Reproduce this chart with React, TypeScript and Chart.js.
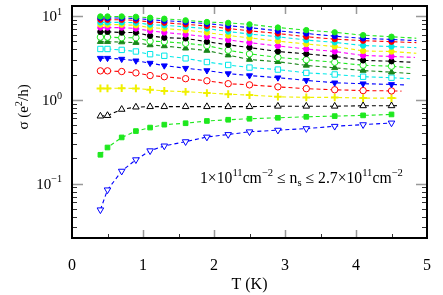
import React, { useEffect, useRef } from "react";
import { Chart, registerables } from "chart.js";
Chart.register(...registerables);

// Temperature (K)
const T = [0.4, 0.5, 0.7, 0.9, 1.1, 1.3, 1.6, 1.9, 2.2, 2.5, 2.9, 3.3, 3.7, 4.1, 4.5];

// Conductivity sigma (e^2/h), top curve (highest n_s) to bottom curve (lowest n_s)
const sigmaGreenDot = [9.9, 9.9, 9.9, 9.8, 9.55, 9.3, 8.9, 8.5, 8.3, 7.97, 7.3, 6.8, 6.4, 5.92, 5.67];
const sigmaBlueDot = [9.5, 9.5, 9.5, 9.37, 9.05, 8.81, 8.51, 8.12, 7.69, 7.29, 6.67, 6.2, 5.76, 5.42, 5.27];
const sigmaRedDot = [9.05, 9.05, 9.05, 8.88, 8.51, 8.34, 7.97, 7.63, 7.1, 6.67, 6.2, 5.67, 5.31, 5.09, 4.95];
const sigmaCyanDot = [8.41, 8.41, 8.41, 8.34, 7.91, 7.76, 7.43, 7.1, 6.54, 6.11, 5.67, 5.17, 4.86, 4.45, 4.33];
const sigmaYellowDot = [7.91, 7.91, 7.91, 7.76, 7.29, 7.1, 6.78, 6.37, 5.87, 5.49, 5.03, 4.64, 4.33, 3.84, 3.78];
const sigmaMagentaDot = [7.29, 7.29, 7.29, 7.1, 6.67, 6.37, 6.03, 5.67, 5.2, 4.82, 4.4, 4.05, 3.78, 3.39, 3.3];
const sigmaBlackDot = [6.49, 6.49, 6.37, 6.37, 5.82, 5.52, 5.42, 4.95, 4.54, 4.21, 3.78, 3.54, 3.3, 2.96, 2.89];
const sigmaGreenOpen = [5.61, 5.61, 5.52, 5.52, 5.03, 4.95, 4.73, 4.45, 3.91, 3.54, 3.21, 3.01, 2.81, 2.59, 2.52];
const sigmaDarkGreenTri = [4.95, 4.95, 4.9, 4.82, 4.52, 4.4, 4.13, 3.88, 3.42, 3.03, 2.85, 2.58, 2.41, 2.24, 2.14];
const sigmaCyanSquare = [4.05, 4.05, 3.95, 3.78, 3.51, 3.36, 3.13, 2.83, 2.61, 2.43, 2.3, 2.1, 2.01, 1.89, 1.84];
const sigmaBlueDownTri = [3.15, 3.15, 3.07, 2.93, 2.75, 2.56, 2.39, 2.24, 2.06, 1.95, 1.84, 1.71, 1.6, 1.56, 1.53];
const sigmaRedOpen = [2.22, 2.22, 2.18, 2.1, 1.95, 1.89, 1.79, 1.69, 1.56, 1.51, 1.43, 1.36, 1.32, 1.29, 1.28];
const sigmaYellowPlus = [1.37, 1.37, 1.38, 1.37, 1.32, 1.28, 1.25, 1.21, 1.17, 1.14, 1.09, 1.07, 1.07, 1.05, 1.05];
const sigmaBlackOpenTri = [0.64, 0.65, 0.77, 0.82, 0.83, 0.83, 0.83, 0.83, 0.83, 0.83, 0.84, 0.84, 0.84, 0.85, 0.85];
const sigmaGreenSquare = [0.221, 0.27, 0.356, 0.424, 0.467, 0.506, 0.526, 0.56, 0.579, 0.595, 0.611, 0.628, 0.64, 0.653, 0.67];
const sigmaBlueOpenDownTri = [0.0487, 0.0843, 0.141, 0.193, 0.247, 0.282, 0.317, 0.36, 0.386, 0.416, 0.435, 0.454, 0.484, 0.506, 0.53];

// Dashed fit lines continue a little past the last measured point (first 14 curves)
const extT = [4.85, 4.85, 4.85, 4.85, 4.85, 4.83, 4.8, 4.79, 4.79, 4.76, 4.69, 4.64, 4.57, 4.6];
const extSigma = [5.45, 5.09, 4.82, 4.2, 3.6, 3.21, 2.81, 2.41, 2.06, 1.79, 1.51, 1.27, 1.05, 0.855];

// Axes
const xTickLabels = ["0", "1", "2", "3", "4", "5"];
const xMajorTicks = [1, 2, 3, 4];
const xMinorTicks = [0.5, 1.5, 2.5, 3.5, 4.5];
const yTickValues = [0.1, 1, 10];
const yTickExponents = ["\u22121", "0", "1"];
const yMinorMultipliers = [2, 3, 4, 5, 6, 7, 8, 9];
const yMinorDecades = [0.01, 0.1, 1, 10];

const series = [
  sigmaGreenDot, sigmaBlueDot, sigmaRedDot, sigmaCyanDot, sigmaYellowDot, sigmaMagentaDot,
  sigmaBlackDot, sigmaGreenOpen, sigmaDarkGreenTri, sigmaCyanSquare, sigmaBlueDownTri,
  sigmaRedOpen, sigmaYellowPlus, sigmaBlackOpenTri, sigmaGreenSquare, sigmaBlueOpenDownTri,
];

const GREEN = "#1ee81e";
const styles = [
  { color: GREEN, shape: "circle", fill: true, r: 2.7 },
  { color: "#0000ff", shape: "circle", fill: true, r: 2.7 },
  { color: "#ff0000", shape: "circle", fill: true, r: 2.7 },
  { color: "#00e8e8", shape: "circle", fill: true, r: 2.7 },
  { color: "#f0f000", shape: "circle", fill: true, r: 2.7 },
  { color: "#ff00ff", shape: "circle", fill: true, r: 2.7 },
  { color: "#000000", shape: "circle", fill: true, r: 2.7 },
  { color: GREEN, shape: "circle", fill: false, r: 3.2 },
  { color: "#1a861a", shape: "triangle", fill: true, r: 3.5 },
  { color: "#00e8e8", shape: "rect", fill: false, r: 3.8 },
  { color: "#0000ff", shape: "triangle", fill: true, r: 3.5, rot: 180 },
  { color: "#ff0000", shape: "circle", fill: false, r: 3.2 },
  { color: "#f0f000", shape: "cross", fill: true, r: 3.8, bw: 2 },
  { color: "#000000", shape: "triangle", fill: false, r: 3.8 },
  { color: GREEN, shape: "rect", fill: true, r: 3.3 },
  { color: "#0000ff", shape: "triangle", fill: false, r: 3.8, rot: 180 },
];

const FONT = "'Liberation Serif', 'Times New Roman', serif";

type Seg = [string, number];
function drawRich(ctx: CanvasRenderingContext2D, segs: Seg[], x: number, y: number, size: number, align: string) {
  const small = size * 0.68;
  const widths = segs.map(([t, k]) => {
    ctx.font = `${k ? small : size}px ${FONT}`;
    return ctx.measureText(t).width;
  });
  const total = widths.reduce((a, b) => a + b, 0);
  let cx = align === "right" ? x - total : align === "center" ? x - total / 2 : x;
  ctx.textAlign = "left";
  ctx.textBaseline = "alphabetic";
  segs.forEach(([t, k], i) => {
    ctx.font = `${k ? small : size}px ${FONT}`;
    const dy = k === 1 ? -size * 0.42 : k === -1 ? size * 0.22 : 0;
    ctx.fillText(t, cx, y + dy);
    cx += widths[i];
  });
}

const framePlugin = {
  id: "frameTicks",
  afterDraw(chart: any) {
    const ctx = chart.ctx as CanvasRenderingContext2D;
    const { left, right, top, bottom } = chart.chartArea;
    const xs = chart.scales.x;
    const ys = chart.scales.y;
    ctx.save();
    ctx.lineWidth = 1.5;
    ctx.strokeStyle = "#999";
    xMajorTicks.forEach((v) => {
      const px = Math.round(xs.getPixelForValue(v)) + 0.5;
      ctx.beginPath();
      ctx.moveTo(px, bottom); ctx.lineTo(px, bottom - 8);
      ctx.moveTo(px, top); ctx.lineTo(px, top + 8);
      ctx.stroke();
    });
    ctx.lineWidth = 1;
    ctx.strokeStyle = "#333";
    xMinorTicks.forEach((v) => {
      const px = Math.round(xs.getPixelForValue(v)) + 0.5;
      ctx.beginPath();
      ctx.moveTo(px, bottom); ctx.lineTo(px, bottom - 4);
      ctx.moveTo(px, top); ctx.lineTo(px, top + 4);
      ctx.stroke();
    });
    ctx.lineWidth = 1.5;
    ctx.strokeStyle = "#999";
    yTickValues.forEach((v) => {
      const py = Math.round(ys.getPixelForValue(v)) + 0.5;
      ctx.beginPath();
      ctx.moveTo(left, py); ctx.lineTo(left + 11, py);
      ctx.moveTo(right, py); ctx.lineTo(right - 11, py);
      ctx.stroke();
    });
    ctx.lineWidth = 1;
    ctx.strokeStyle = "#333";
    yMinorDecades.forEach((d) => {
      yMinorMultipliers.forEach((m) => {
        const v = d * m;
        if (v <= ys.min || v >= ys.max) return;
        const py = Math.round(ys.getPixelForValue(v)) + 0.5;
        ctx.beginPath();
        ctx.moveTo(left, py); ctx.lineTo(left + 5, py);
        ctx.moveTo(right, py); ctx.lineTo(right - 5, py);
        ctx.stroke();
      });
    });
    ctx.lineWidth = 2;
    ctx.strokeStyle = "#000";
    ctx.strokeRect(left, top, right - left, bottom - top);

    ctx.fillStyle = "#000";
    yTickValues.forEach((v, i) => {
      const py = ys.getPixelForValue(v);
      drawRich(ctx, [["10", 0], [yTickExponents[i], 1]], left - 10, py + 5, 15, "right");
    });
    ctx.save();
    ctx.translate(23, 107);
    ctx.rotate(-Math.PI / 2);
    drawRich(ctx, [["\u03c3 (e", 0], ["2", 1], ["/h)", 0]], 0, 5, 15, "center");
    ctx.restore();
    drawRich(
      ctx,
      [["1\u00d710", 0], ["11", 1], ["cm", 0], ["\u22122", 1], [" \u2264 n", 0], ["s", -1],
       [" \u2264 2.7\u00d710", 0], ["11", 1], ["cm", 0], ["\u22122", 1]],
      200, 183, 15.7, "left"
    );
    ctx.restore();
  },
};

export default function App() {
  const ref = useRef<HTMLCanvasElement | null>(null);
  useEffect(() => {
    if (!ref.current) return;
    const datasets = series.map((s, k) => {
      const st: any = styles[k];
      const data: { x: number; y: number }[] = T.map((t, i) => ({ x: t, y: s[i] }));
      if (k < extT.length) data.push({ x: extT[k], y: extSigma[k] });
      return {
        label: `n${k + 1}`,
        data,
        borderColor: st.color,
        backgroundColor: st.fill ? st.color : "#ffffff",
        borderWidth: 1.1,
        borderDash: [4, 3],
        pointStyle: st.shape,
        pointRotation: st.rot || 0,
        pointRadius: (c: any) => (c.dataIndex >= T.length ? 0 : st.r),
        pointBorderColor: st.color,
        pointBackgroundColor: st.fill ? st.color : "#ffffff",
        pointBorderWidth: st.bw || 1,
        tension: 0,
        fill: false,
      };
    });
    const chart = new Chart(ref.current, {
      type: "line",
      data: { datasets },
      options: {
        animation: false,
        responsive: false,
        maintainAspectRatio: false,
        layout: { padding: { left: 0, right: 16, top: 2, bottom: 0 } },
        plugins: { legend: { display: false }, tooltip: { enabled: false } },
        scales: {
          x: {
            type: "linear",
            min: 0,
            max: 5,
            grid: { display: false },
            border: { display: false },
            ticks: {
              stepSize: 1,
              autoSkip: false,
              maxRotation: 0,
              padding: 10,
              color: "#000",
              font: { family: FONT, size: 16 },
              callback: (v: any) => xTickLabels[Math.round(Number(v))] ?? "",
            },
            title: {
              display: true,
              text: "T (K)",
              color: "#000",
              font: { family: FONT, size: 16 },
              padding: { top: 0, bottom: 1 },
            },
            afterFit: (s: any) => { s.height = 57; },
          },
          y: {
            type: "logarithmic",
            min: 0.02244,
            max: 13.2,
            grid: { display: false },
            border: { display: false },
            ticks: { display: false },
            afterFit: (s: any) => { s.width = 72; },
          },
        },
      } as any,
      plugins: [framePlugin],
    });
    return () => chart.destroy();
  }, []);
  return (
    <div style={{ position: "absolute", left: 0, top: 0, width: 443, height: 295, background: "#fff" }}>
      <canvas ref={ref} width={443} height={295} />
    </div>
  );
}
